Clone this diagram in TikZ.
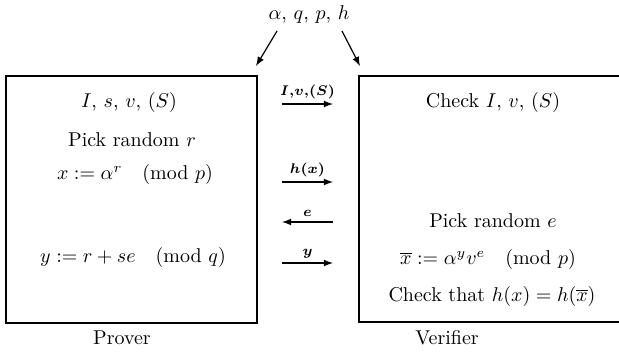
\documentclass[tikz,border=0pt]{standalone}
\usepackage{amsmath}
\usepackage{bm}

\begin{document}
\begin{tikzpicture}[x=0.5pt, y=-0.5pt, >=latex, line width=0.6pt]
        \useasboundingbox (0,0) rectangle (619,356);

        \node [anchor=base] (params) at (309,20) {$\alpha$, $q$, $p$, $h$};
        \coordinate (pL) at (277,31);
        \coordinate (pR) at (342,31);
        \coordinate (inProver) at (256,66);
        \coordinate (inVerifier) at (360,66);
        \draw[->] (pL) -- (inProver);
        \draw[->] (pR) -- (inVerifier);

        \draw [] (6,76) rectangle (257,323);
        \draw [] (359,76) rectangle (640,322);

        \node [anchor=base] (keysP) at (129,108) {$I$, $s$, $v$, $(S)$};
        \node [anchor=base] (pickR) at (132,147) {Pick random $r$};
        \node [anchor=base] (commit) at (135,180) {$x := \alpha^r \quad (\mathrm{mod}\ p)$};
        \node [anchor=base] (respond) at (133,263) {$y := r + se \quad (\mathrm{mod}\ q)$};

        \node [anchor=base] (checkKeys) at (493,108) {Check $I$, $v$, $(S)$};
        \node [anchor=base] (pickE) at (493,228) {Pick random $e$};
        \node [anchor=base] (recompute) at (488,265) {$\overline{x} := \alpha^y v^e \quad (\mathrm{mod}\ p)$};
        \node [anchor=base] (checkHash) at (492,302) {Check that $h(x) = h(\overline{x})$};

        \node [anchor=base] (prover) at (122,345) {Prover};
        \node [anchor=base] (verifier) at (447,345) {Verifier};

        \coordinate (a1) at (282,104);
        \coordinate (b1) at (333,104);
        \coordinate (a2) at (282,182);
        \coordinate (b2) at (333,182);
        \coordinate (a3) at (282,222);
        \coordinate (b3) at (333,222);
        \coordinate (a4) at (282,263);
        \coordinate (b4) at (333,263);

        \draw[->] (a1) -- node[above=-1pt, font=\scriptsize] (m1) {$\bm{I,\!v,\!(S)}$} (b1);
        \draw[->] (a2) -- node[above=-1pt, font=\scriptsize] (m2) {$\bm{h(x)}$} (b2);
        \draw[->] (b3) -- node[above=-1pt, font=\scriptsize] (m3) {$\bm{e}$} (a3);
        \draw[->] (a4) -- node[above=-1pt, font=\scriptsize] (m4) {$\bm{y}$} (b4);

    \end{tikzpicture}
\end{document}
